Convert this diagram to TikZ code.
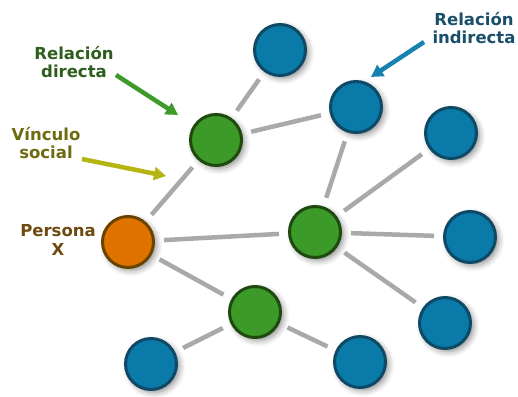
\documentclass[tikz,border=0pt]{standalone}
\usepackage{fontspec}
\setmainfont{DejaVu Sans}
\usetikzlibrary{arrows.meta,shadows.blur}
\definecolor{bfill}{HTML}{0A7BA8}
\definecolor{bdraw}{HTML}{0E4A66}
\definecolor{gfill}{HTML}{3C9A29}
\definecolor{gdraw}{HTML}{1E4A10}
\definecolor{ofill}{HTML}{E07200}
\definecolor{odraw}{HTML}{6A4300}
\definecolor{edgegray}{HTML}{A9A9A9}
\definecolor{tgreen}{HTML}{2E5E1E}
\definecolor{tolive}{HTML}{6E6B10}
\definecolor{tbrown}{HTML}{6E4A10}
\definecolor{tblue}{HTML}{1A4F6C}
\definecolor{agreen}{HTML}{3D9A2B}
\definecolor{ayellow}{HTML}{B5B512}
\definecolor{ablue}{HTML}{1582B0}
\tikzset{
  pnode/.style={circle,minimum size=51pt,inner sep=0pt,line width=3pt,
    blur shadow={shadow xshift=3pt,shadow yshift=-3pt,shadow blur radius=6pt,shadow opacity=45}},
  bnode/.style={pnode,fill=bfill,draw=bdraw},
  gnode/.style={pnode,fill=gfill,draw=gdraw},
  onode/.style={pnode,fill=ofill,draw=odraw},
  link/.style={draw=edgegray,line width=4.5pt,shorten <=9pt,shorten >=9pt},
  lbl/.style={font=\bfseries\fontsize{16.5}{18.5}\selectfont,align=center,inner sep=0pt},
  pointer/.style={line width=4.5pt,-{Triangle[length=12pt,width=13pt]}},
}
\begin{document}
\begin{tikzpicture}[x=1pt,y=-1pt]
\useasboundingbox (0,0) rectangle (518,396);
\node[bnode] (tb) at (280,50) {};
\node[bnode] (ind) at (356,107) {};
\node[bnode] (rb1) at (451,133) {};
\node[gnode] (g1) at (216,140) {};
\node[onode] (px) at (128,242) {};
\node[gnode] (g2) at (315,232) {};
\node[bnode] (rb2) at (470,237) {};
\node[bnode] (rb3) at (445,323) {};
\node[gnode] (g3) at (255,312) {};
\node[bnode] (bl) at (151,364) {};
\node[bnode] (br) at (360,362) {};
\draw[link] (g1) -- (tb);
\draw[link] (g1) -- (ind);
\draw[link] (g1) -- (px);
\draw[link] (px) -- (g2);
\draw[link] (px) -- (g3);
\draw[link] (g3) -- (bl);
\draw[link] (g3) -- (br);
\draw[link] (g2) -- (ind);
\draw[link] (g2) -- (rb1);
\draw[link] (g2) -- (rb2);
\draw[link] (g2) -- (rb3);
\node[lbl,text=tgreen] (lrd) at (74,62) {Relación\\directa};
\node[lbl,text=tolive] (lvs) at (46,143) {Vínculo\\social};
\node[lbl,text=tbrown] (lpx) at (58,240) {Persona\\X};
\node[lbl,text=tblue] (lri) at (474,28) {Relación\\indirecta};
\coordinate (a1s) at (116,75);
\coordinate (a1e) at (178,115);
\coordinate (a2s) at (82,159);
\coordinate (a2e) at (166,176);
\coordinate (a3s) at (424,42);
\coordinate (a3e) at (371,77);
\draw[pointer,draw=agreen,fill=agreen] (a1s) -- (a1e);
\draw[pointer,draw=ayellow,fill=ayellow] (a2s) -- (a2e);
\draw[pointer,draw=ablue,fill=ablue] (a3s) -- (a3e);
\end{tikzpicture}
\end{document}
